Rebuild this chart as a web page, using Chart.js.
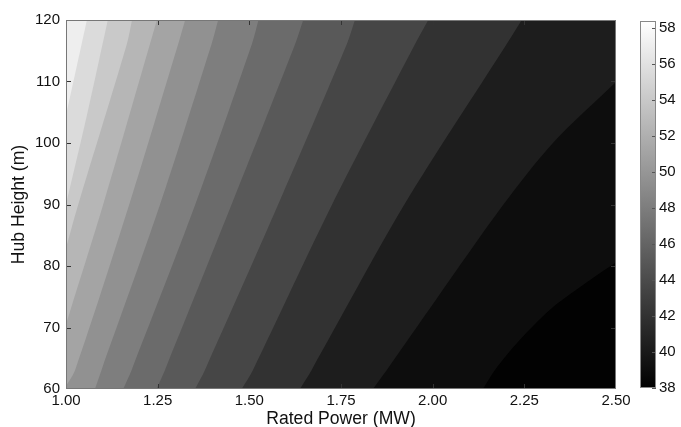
<!DOCTYPE html>
<html lang="en">
<head>
  <meta charset="UTF-8">
  <title>Hub Height vs Rated Power</title>
  <style>
    html, body {
      margin: 0;
      padding: 0;
      background: #fff;
    }
    #wrap {
      position: relative;
      width: 681px;
      height: 427px;
    }
    #wrap canvas {
      position: absolute;
      left: 0;
      top: 0;
    }
  </style>
</head>
<body>
  <div id="wrap">
    <canvas id="plot" width="681" height="427"></canvas>
    <canvas id="cbar" width="681" height="427"></canvas>
  </div>

  <script src="https://cdn.jsdelivr.net/npm/chart.js@4.4.1/dist/chart.umd.min.js"></script>
  <script>
    // tick labels
    const powerTicks  = [1.00, 1.25, 1.50, 1.75, 2.00, 2.25, 2.50];
    const heightTicks = [60, 70, 80, 90, 100, 110, 120];
    const cbarTicks   = [38, 40, 42, 44, 46, 48, 50, 52, 54, 56, 58];
    const cbarRange   = [38, 58.4];

    // contour lines: [rated power (MW), hub height (m)],
    // from the left / bottom edge up to the top / right edge
    const c01 = [[1.000, 104.5], [1.057, 120]];
    const c02 = [[1.000, 90.0], [1.057, 104.5], [1.114, 120]];
    const c03 = [[1.000, 82.9], [1.033, 89.9], [1.166, 116.1], [1.180, 120]];
    const c04 = [[1.000, 70.5], [1.101, 89.9], [1.229, 116.1], [1.248, 120]];
    const c05 = [[1.000, 60.5], [1.025, 63.1], [1.172, 89.9], [1.306, 116.1], [1.325, 120]];
    const c06 = [[1.079, 60], [1.097, 63.1], [1.256, 89.9], [1.397, 116.1], [1.415, 120]];
    const c07 = [[1.156, 60], [1.179, 63.1], [1.352, 89.9], [1.507, 116.1], [1.525, 120]];
    const c08 = [[1.247, 60], [1.270, 63.1], [1.451, 89.9], [1.625, 116.1], [1.647, 120]];
    const c09 = [[1.352, 60], [1.379, 63.1], [1.578, 89.9], [1.766, 116.1], [1.788, 120]];
    const c10 = [[1.479, 60], [1.510, 63.1], [1.725, 89.9], [1.952, 116.1], [1.988, 120]];
    const c11 = [[1.638, 60], [1.670, 63.1], [1.922, 89.9], [2.202, 116.1], [2.243, 120]];
    const c12 = [[1.837, 60], [1.875, 63.1], [2.009, 74.5], [2.192, 89.9], [2.328, 100.0], [2.500, 109.9]];
    const c13 = [[2.137, 60], [2.170, 63.1], [2.238, 68.0], [2.320, 72.9], [2.410, 76.9], [2.500, 80.6]];

    // grey of each band, lightest (top left) to darkest (bottom right)
    const bandGray = [238, 219, 201, 182, 164, 145, 126, 107, 89, 70, 50, 29, 13, 2];

    const contours = [c01, c02, c03, c04, c05, c06, c07, c08, c09, c10, c11, c12, c13];
    const xMin = powerTicks[0], xMax = powerTicks[powerTicks.length - 1];
    const yMin = heightTicks[0], yMax = heightTicks[heightTicks.length - 1];

    const grey = v => `rgb(${v},${v},${v})`;
    const FONT = '"Liberation Sans", Arial, Helvetica, sans-serif';
    const INK = '#111';

    // run a contour a little past the plot edges so the smoothed curve keeps
    // its direction at the border (the overhang is clipped away)
    function bandData(pts) {
      const d = pts.map(p => ({x: p[0], y: p[1]}));
      const a = d[0], b = d[1], y = d[d.length - 2], z = d[d.length - 1];
      const head = {x: a.x + (a.x - b.x), y: a.y + (a.y - b.y)};
      const tail = {x: z.x + (z.x - y.x), y: z.y + (z.y - y.y)};
      const out = [head].concat(d, [tail]);
      if (z.x < xMax) out.push({x: xMax + 0.5, y: tail.y});
      return out;
    }

    // every band is the area below/right of its contour, painted light to dark
    const baseBand = {
      data: [{x: xMin, y: yMax}, {x: xMax, y: yMax}],
      fill: 'start',
      backgroundColor: grey(bandGray[0]),
      borderColor: 'rgba(0,0,0,0)',
      borderWidth: 0,
      pointRadius: 0,
      tension: 0,
      order: contours.length + 1
    };
    const datasets = [baseBand].concat(contours.map((pts, i) => ({
      data: bandData(pts),
      fill: 'start',
      backgroundColor: grey(bandGray[i + 1]),
      borderColor: 'rgba(0,0,0,0)',
      borderWidth: 0,
      pointRadius: 0,
      tension: 0.3,
      order: contours.length - i
    })));

    // MATLAB-style box with ticks pointing inward
    const boxTicks = {
      id: 'boxTicks',
      afterDatasetsDraw(chart, args, opts) {
        const {ctx, chartArea: a} = chart;
        const len = opts.length;
        ctx.save();
        ctx.lineWidth = 1;
        ctx.strokeStyle = opts.tickColor;
        ctx.beginPath();
        (opts.x || []).forEach(v => {
          const px = Math.round(chart.scales.x.getPixelForValue(v)) + 0.5;
          ctx.moveTo(px, a.bottom); ctx.lineTo(px, a.bottom - len);
          ctx.moveTo(px, a.top); ctx.lineTo(px, a.top + len);
        });
        (opts.y || []).forEach(v => {
          const py = Math.round(chart.scales.y.getPixelForValue(v)) + 0.5;
          if (opts.left) { ctx.moveTo(a.left, py); ctx.lineTo(a.left + len, py); }
          ctx.moveTo(a.right, py); ctx.lineTo(a.right - len, py);
        });
        ctx.stroke();
        ctx.strokeStyle = opts.boxColor;
        ctx.strokeRect(Math.round(a.left) + 0.5, Math.round(a.top) + 0.5,
                       Math.round(a.right - a.left) - 1, Math.round(a.bottom - a.top) - 1);
        ctx.restore();
      }
    };

    new Chart(document.getElementById('plot'), {
      type: 'line',
      data: {datasets},
      plugins: [boxTicks],
      options: {
        responsive: false,
        animation: false,
        events: [],
        elements: {line: {capBezierPoints: false}},
        layout: {padding: {left: 0, top: 20, right: 65, bottom: 0}},
        plugins: {
          legend: {display: false},
          tooltip: {enabled: false},
          boxTicks: {
            x: powerTicks.slice(1, -1),
            y: heightTicks.slice(1, -1),
            left: true,
            length: 5,
            tickColor: '#333',
            boxColor: '#777'
          }
        },
        scales: {
          x: {
            type: 'linear',
            min: xMin,
            max: xMax,
            afterBuildTicks: s => { s.ticks = powerTicks.map(v => ({value: v})); },
            afterFit: s => { s.height = 38; },
            grid: {display: false, drawTicks: false},
            border: {display: false},
            ticks: {
              padding: 3,
              color: INK,
              font: {family: FONT, size: 15},
              maxRotation: 0,
              callback: v => Number(v).toFixed(2)
            },
            title: {
              display: true,
              text: 'Rated Power (MW)',
              color: INK,
              font: {family: FONT, size: 17.6},
              padding: {top: 0, bottom: -3}
            }
          },
          y: {
            type: 'linear',
            min: yMin,
            max: yMax,
            afterBuildTicks: s => { s.ticks = heightTicks.map(v => ({value: v})); },
            afterFit: s => { s.width = 66; },
            grid: {display: false, drawTicks: false},
            border: {display: false},
            ticks: {
              padding: 6,
              color: INK,
              font: {family: FONT, size: 15}
            },
            title: {
              display: true,
              text: 'Hub Height (m)',
              color: INK,
              font: {family: FONT, size: 17.6},
              padding: {top: 8.5, bottom: 0}
            }
          }
        }
      }
    });

    // colour bar
    new Chart(document.getElementById('cbar'), {
      type: 'bar',
      data: {
        labels: ['level'],
        datasets: [{
          data: [cbarRange],
          barPercentage: 1,
          categoryPercentage: 1,
          borderWidth: 0,
          backgroundColor: c => {
            const a = c.chart.chartArea;
            if (!a) return '#888';
            const g = c.chart.ctx.createLinearGradient(0, a.bottom, 0, a.top);
            g.addColorStop(0, '#000');
            g.addColorStop(1, '#fff');
            return g;
          }
        }]
      },
      plugins: [boxTicks],
      options: {
        responsive: false,
        animation: false,
        events: [],
        layout: {padding: {left: 640, top: 21, right: 0, bottom: 39}},
        plugins: {
          legend: {display: false},
          tooltip: {enabled: false},
          boxTicks: {
            y: cbarTicks,
            left: false,
            length: 4,
            tickColor: '#555',
            boxColor: '#888'
          }
        },
        scales: {
          x: {display: false},
          y: {
            position: 'right',
            min: cbarRange[0],
            max: cbarRange[1],
            afterBuildTicks: s => { s.ticks = cbarTicks.map(v => ({value: v})); },
            afterFit: s => { s.width = 25; },
            grid: {display: false, drawTicks: false},
            border: {display: false},
            ticks: {
              padding: 3,
              color: INK,
              font: {family: FONT, size: 15}
            }
          }
        }
      }
    });
  </script>
</body>
</html>
